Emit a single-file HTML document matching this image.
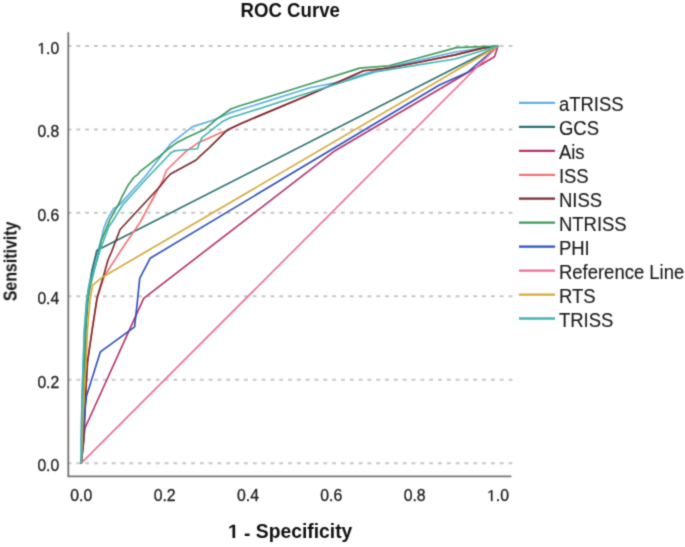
<!DOCTYPE html><html><head><meta charset="utf-8"><style>html,body{margin:0;padding:0;background:#fff;}svg{display:block;filter:none;}text{font-family:"Liberation Sans",sans-serif;}</style></head><body>
<svg width="685" height="547" viewBox="0 0 685 547">
<defs><filter id="b" filterUnits="userSpaceOnUse" x="0" y="0" width="685" height="547" color-interpolation-filters="sRGB"><feConvolveMatrix order="3" kernelMatrix="0.0277 0.1110 0.0277 0.1110 0.4452 0.1110 0.0277 0.1110 0.0277" edgeMode="duplicate"/></filter></defs>
<g filter="url(#b)">
<rect x="0" y="0" width="685" height="547" fill="#fff"/>
<line x1="67.6" y1="45.9" x2="512.4" y2="45.9" stroke="#c6c6c6" stroke-width="2" stroke-dasharray="3.8 5.02"/>
<line x1="67.6" y1="129.4" x2="512.4" y2="129.4" stroke="#c6c6c6" stroke-width="2" stroke-dasharray="3.8 5.02"/>
<line x1="67.6" y1="212.8" x2="512.4" y2="212.8" stroke="#c6c6c6" stroke-width="2" stroke-dasharray="3.8 5.02"/>
<line x1="67.6" y1="296.3" x2="512.4" y2="296.3" stroke="#c6c6c6" stroke-width="2" stroke-dasharray="3.8 5.02"/>
<line x1="67.6" y1="379.7" x2="512.4" y2="379.7" stroke="#c6c6c6" stroke-width="2" stroke-dasharray="3.8 5.02"/>
<line x1="67.6" y1="463.2" x2="512.4" y2="463.2" stroke="#c6c6c6" stroke-width="2" stroke-dasharray="3.8 5.02"/>
<line x1="68.3" y1="32.3" x2="68.3" y2="476.3" stroke="#747474" stroke-width="1.8"/>
<line x1="67.4" y1="476.3" x2="511.4" y2="476.3" stroke="#747474" stroke-width="1.8"/>
<polyline points="81.3,463.2 81.3,440.0 81.6,420.0 82.1,396.0 83.3,360.0 84.3,330.0 86.6,300.0 88.8,286.0 92.5,270.0 94.5,262.0 98.2,250.0 101.5,238.0 103.7,228.5 107.4,219.4 113.7,208.4 117.4,206.6 122.9,201.1 131.0,192.0 144.9,176.7 167.8,147.4 171.4,143.0 172.9,141.9 192.6,126.6 200.0,124.4 214.3,119.7 230.0,112.9 310.0,87.8 335.0,82.7 380.0,69.3 455.0,52.0 498.0,46.0" fill="none" stroke="#5eaee6" stroke-width="1.65" stroke-linejoin="round" stroke-linecap="round"/>
<polyline points="81.3,463.2 82.8,440.0 83.4,420.0 84.0,396.0 85.0,360.0 85.6,330.0 87.5,300.0 89.5,286.0 92.0,270.0 94.0,262.0 96.8,250.5 498.0,46.0" fill="none" stroke="#2b7070" stroke-width="1.65" stroke-linejoin="round" stroke-linecap="round"/>
<polyline points="81.3,463.2 83.5,440.0 85.0,428.0 143.7,298.4 335.0,150.7 494.5,56.8 498.0,46.0" fill="none" stroke="#b5336a" stroke-width="1.65" stroke-linejoin="round" stroke-linecap="round"/>
<polyline points="81.3,463.2 83.8,440.0 84.6,420.0 85.5,396.0 87.5,362.0 92.0,331.0 97.3,298.0 104.2,276.2 121.2,250.0 140.0,222.5 163.0,180.0 166.3,170.5 175.0,162.0 186.0,151.3 196.9,143.6 221.0,132.6 225.8,131.3 230.0,128.7 240.0,123.9 310.0,94.4 363.6,70.8 389.0,68.0 420.0,62.0 455.0,54.9 482.7,48.1 498.0,46.0" fill="none" stroke="#f27474" stroke-width="1.65" stroke-linejoin="round" stroke-linecap="round"/>
<polyline points="81.3,463.2 83.8,440.0 84.6,420.0 85.5,396.0 87.5,362.0 92.0,331.0 97.0,298.0 103.5,276.0 108.0,260.0 111.5,252.0 120.1,229.5 160.0,186.5 166.3,178.5 170.5,174.0 196.2,160.0 200.0,156.2 209.4,147.7 225.8,131.3 230.0,128.7 240.0,123.9 310.0,94.4 363.6,70.8 389.0,68.0 420.0,62.0 455.0,54.9 482.7,48.1 498.0,46.0" fill="none" stroke="#7b2b2e" stroke-width="1.65" stroke-linejoin="round" stroke-linecap="round"/>
<polyline points="81.3,463.2 82.6,440.0 83.2,420.0 83.8,396.0 84.9,360.0 85.8,330.0 88.0,300.0 90.3,286.0 94.3,270.0 96.5,262.0 99.5,250.0 101.0,241.3 110.1,219.4 119.2,203.0 122.0,196.6 128.4,184.7 133.8,177.4 137.5,174.7 140.0,171.6 160.0,155.9 167.4,149.6 176.5,142.8 180.6,140.8 186.3,137.8 204.4,129.6 216.0,119.7 230.8,109.0 240.0,105.8 300.0,87.0 359.6,68.1 389.0,65.7 420.0,57.5 456.4,47.6 498.0,46.0" fill="none" stroke="#3e9a5c" stroke-width="1.65" stroke-linejoin="round" stroke-linecap="round"/>
<polyline points="81.3,463.2 83.0,440.0 84.0,420.0 86.4,396.3 100.4,351.8 134.6,326.8 137.0,305.0 139.7,278.4 150.1,258.3 439.4,85.0 467.3,72.5 498.0,46.0" fill="none" stroke="#2f4fbf" stroke-width="1.65" stroke-linejoin="round" stroke-linecap="round"/>
<polyline points="81.3,463.2 498.0,46.0" fill="none" stroke="#ef6d96" stroke-width="1.65" stroke-linejoin="round" stroke-linecap="round"/>
<polyline points="81.3,463.2 82.2,440.0 82.9,420.0 84.0,396.0 86.2,360.0 87.5,330.0 90.0,300.0 92.7,285.1 102.2,277.3 498.0,46.0" fill="none" stroke="#d6a838" stroke-width="1.65" stroke-linejoin="round" stroke-linecap="round"/>
<polyline points="81.3,463.2 81.3,440.0 81.6,420.0 82.1,396.0 83.3,360.0 84.5,330.0 86.8,300.0 89.0,286.0 94.0,270.0 96.5,262.0 100.0,250.0 102.0,245.0 108.8,226.7 112.6,221.2 118.2,212.1 122.8,204.8 145.2,180.0 167.8,156.2 170.5,153.0 174.4,150.9 180.0,150.3 197.5,148.7 199.7,142.3 202.0,137.7 222.6,121.4 230.0,117.8 240.0,114.8 300.0,95.5 375.0,71.9 455.0,59.0 498.0,46.0" fill="none" stroke="#43b4b2" stroke-width="1.65" stroke-linejoin="round" stroke-linecap="round"/>
<path transform="translate(37.38,53.80) scale(0.00767,-0.00767)" d="M515 0V1237L197 1010V1180L530 1409H696V0Z" fill="#222" stroke="#222" stroke-width="39.1" stroke-linejoin="round"/><text x="46.11" y="53.80" font-size="15.7" fill="#222" stroke="#222" stroke-width="0.3">.0</text>
<text x="37.38" y="137.26" font-size="15.7" fill="#222" stroke="#222" stroke-width="0.3">0.8</text>
<text x="37.38" y="220.72" font-size="15.7" fill="#222" stroke="#222" stroke-width="0.3">0.6</text>
<text x="37.38" y="304.18" font-size="15.7" fill="#222" stroke="#222" stroke-width="0.3">0.4</text>
<text x="37.38" y="387.64" font-size="15.7" fill="#222" stroke="#222" stroke-width="0.3">0.2</text>
<text x="37.38" y="471.10" font-size="15.7" fill="#222" stroke="#222" stroke-width="0.3">0.0</text>
<text x="70.32" y="501.10" font-size="15.8" fill="#222" stroke="#222" stroke-width="0.3">0.0</text>
<text x="153.66" y="501.10" font-size="15.8" fill="#222" stroke="#222" stroke-width="0.3">0.2</text>
<text x="237.00" y="501.10" font-size="15.8" fill="#222" stroke="#222" stroke-width="0.3">0.4</text>
<text x="320.34" y="501.10" font-size="15.8" fill="#222" stroke="#222" stroke-width="0.3">0.6</text>
<text x="403.68" y="501.10" font-size="15.8" fill="#222" stroke="#222" stroke-width="0.3">0.8</text>
<path transform="translate(487.02,501.10) scale(0.00771,-0.00771)" d="M515 0V1237L197 1010V1180L530 1409H696V0Z" fill="#222" stroke="#222" stroke-width="38.9" stroke-linejoin="round"/><text x="495.81" y="501.10" font-size="15.8" fill="#222" stroke="#222" stroke-width="0.3">.0</text>
<text transform="translate(290.2,16.8) scale(0.95,1)" x="0" y="0" font-size="19.6" font-weight="bold" fill="#111" text-anchor="middle">ROC Curve</text>
<path transform="translate(227.99,537.90) scale(0.00942,-0.00942)" d="M478 0V1170L140 959V1180L493 1409H759V0Z" fill="#111" stroke="#111" stroke-width="0.0" stroke-linejoin="round"/>
<text x="238.72" y="537.90" font-size="19.3" font-weight="bold" fill="#111" xml:space="preserve"> <tspan dy="2.4">-</tspan><tspan dy="-2.4"> Specificity</tspan></text>
<text transform="translate(16.5,261.4) rotate(-90) scale(0.862,1)" x="0" y="0" font-size="18.5" font-weight="bold" fill="#111" text-anchor="middle">Sensitivity</text>
<line x1="519" y1="102.9" x2="555" y2="102.9" stroke="#5eaee6" stroke-width="2.3"/>
<text transform="translate(558.9,111.3) scale(1,1.06)" x="0" y="0" font-size="18.5" fill="#1a1a1a" stroke="#1a1a1a" stroke-width="0.12">aTRISS</text>
<line x1="519" y1="126.9" x2="555" y2="126.9" stroke="#2b7070" stroke-width="2.3"/>
<text transform="translate(558.9,135.3) scale(1,1.06)" x="0" y="0" font-size="18.5" fill="#1a1a1a" stroke="#1a1a1a" stroke-width="0.12">GCS</text>
<line x1="519" y1="150.8" x2="555" y2="150.8" stroke="#b5336a" stroke-width="2.3"/>
<text transform="translate(558.9,159.2) scale(1,1.06)" x="0" y="0" font-size="18.5" fill="#1a1a1a" stroke="#1a1a1a" stroke-width="0.12">Ais</text>
<line x1="519" y1="174.8" x2="555" y2="174.8" stroke="#f27474" stroke-width="2.3"/>
<text transform="translate(558.9,183.2) scale(1,1.06)" x="0" y="0" font-size="18.5" fill="#1a1a1a" stroke="#1a1a1a" stroke-width="0.12">ISS</text>
<line x1="519" y1="198.7" x2="555" y2="198.7" stroke="#7b2b2e" stroke-width="2.3"/>
<text transform="translate(558.9,207.1) scale(1,1.06)" x="0" y="0" font-size="18.5" fill="#1a1a1a" stroke="#1a1a1a" stroke-width="0.12">NISS</text>
<line x1="519" y1="222.7" x2="555" y2="222.7" stroke="#3e9a5c" stroke-width="2.3"/>
<text transform="translate(558.9,231.1) scale(1,1.06)" x="0" y="0" font-size="18.5" fill="#1a1a1a" stroke="#1a1a1a" stroke-width="0.12">NTRISS</text>
<line x1="519" y1="246.7" x2="555" y2="246.7" stroke="#2f4fbf" stroke-width="2.3"/>
<text transform="translate(558.9,255.1) scale(1,1.06)" x="0" y="0" font-size="18.5" fill="#1a1a1a" stroke="#1a1a1a" stroke-width="0.12">PHI</text>
<line x1="519" y1="270.6" x2="555" y2="270.6" stroke="#ef6d96" stroke-width="2.3"/>
<text transform="translate(558.9,279.0) scale(1,1.06)" x="0" y="0" font-size="18.5" fill="#1a1a1a" stroke="#1a1a1a" stroke-width="0.12">Reference Line</text>
<line x1="519" y1="294.6" x2="555" y2="294.6" stroke="#d6a838" stroke-width="2.3"/>
<text transform="translate(558.9,303.0) scale(1,1.06)" x="0" y="0" font-size="18.5" fill="#1a1a1a" stroke="#1a1a1a" stroke-width="0.12">RTS</text>
<line x1="519" y1="318.5" x2="555" y2="318.5" stroke="#43b4b2" stroke-width="2.3"/>
<text transform="translate(558.9,326.9) scale(1,1.06)" x="0" y="0" font-size="18.5" fill="#1a1a1a" stroke="#1a1a1a" stroke-width="0.12">TRISS</text>
</g></svg></body></html>
